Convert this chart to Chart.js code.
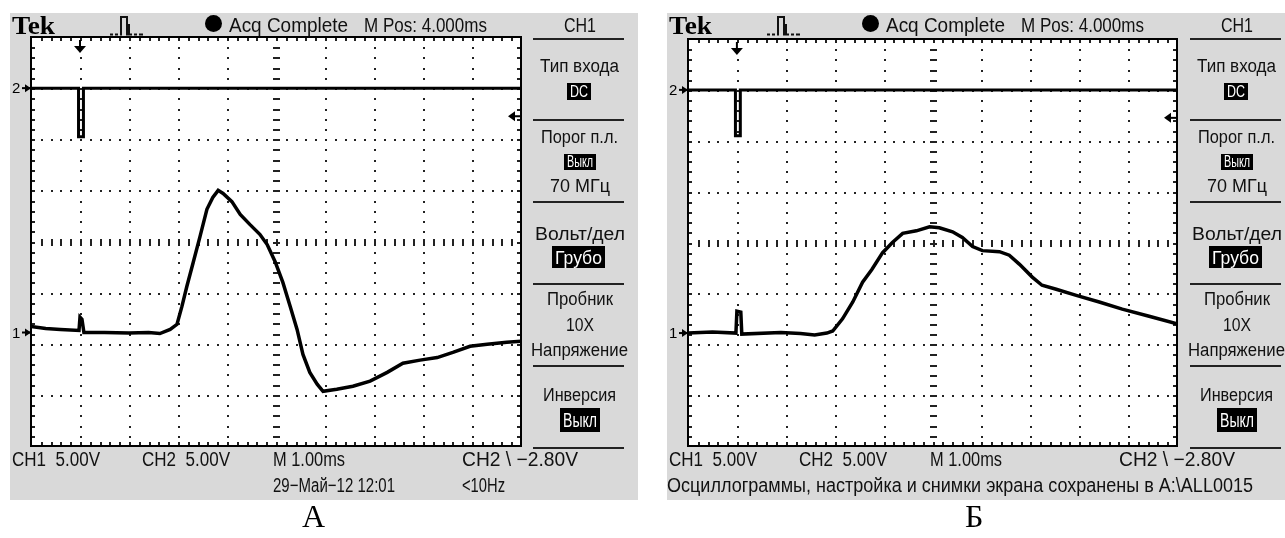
<!DOCTYPE html>
<html lang="ru">
<head>
<meta charset="UTF-8">
<title>Осциллограммы А и Б</title>
<script src="https://cdn.jsdelivr.net/npm/chart.js"></script>
<style>
  body { margin: 0; background: #fff; width: 1285px; height: 538px; overflow: hidden; position: relative;
         font-family: "Liberation Sans", Arial, sans-serif; }
  .panel { position: absolute; top: 13px; height: 487px; background: #d9d9d9; }
  .panel canvas { position: absolute; left: 0; top: 0; }
  .t { position: absolute; white-space: pre; line-height: 1; color: #111; transform-origin: 0 0; }
  .box { position: absolute; background: #000; }
  .rule { position: absolute; height: 2px; background: #222; }
  .lbl { position: absolute; font-family: "Liberation Serif", serif; font-size: 32px; line-height: 1; color: #000; }
</style>
</head>
<body>
<div class="panel" id="panelA" style="left:10px; width:628px;"><canvas id="scopeA" width="628" height="487"></canvas></div>
<div class="panel" id="panelB" style="left:667px; width:618px;"><canvas id="scopeB" width="618" height="487"></canvas></div>
<div class="lbl" style="left:302px; top:500px;">А</div>
<div class="lbl" style="left:965px; top:500px;">Б</div>

<script>
// time in divisions (1 div = 1.00 ms), amplitude in divisions (0 = screen centre)
const timeDivA = [0, 0.3, 0.6, 0.98, 1.0, 1.04, 1.08, 1.5, 2.0, 2.4, 2.63, 2.84, 2.98, 3.08, 3.18, 3.31, 3.45, 3.59, 3.71, 3.82,
                  3.92, 4.10, 4.27, 4.47, 4.67, 4.82, 4.98, 5.14, 5.29, 5.43, 5.55, 5.69, 5.84, 5.96, 6.24, 6.57, 6.92, 7.27, 7.59, 7.94,
                  8.29, 8.61, 8.96, 9.31, 9.71, 10];
const ch1A = [-1.66, -1.70, -1.72, -1.74, -1.48, -1.52, -1.78, -1.78, -1.79, -1.78, -1.80, -1.72, -1.62, -1.27, -0.88, -0.41, 0.10, 0.63, 0.86, 1.0,
              0.94, 0.78, 0.53, 0.33, 0.14, -0.06, -0.39, -0.80, -1.27, -1.72, -2.21, -2.56, -2.79, -2.93, -2.89, -2.83, -2.73, -2.56, -2.38, -2.32,
              -2.27, -2.17, -2.05, -2.01, -1.97, -1.95];

const timeDivB = [0, 0.5, 0.98, 1.0, 1.08, 1.10, 1.9, 2.3, 2.59, 2.84, 2.96, 3.16, 3.37, 3.57, 3.76, 3.98, 4.18, 4.39, 4.67, 4.94,
                  5.14, 5.41, 5.61, 5.82, 6.02, 6.37, 6.57, 6.78, 7.04, 7.24, 7.53, 7.94, 8.41, 8.88, 9.43, 10];
const ch1B = [-1.78, -1.76, -1.78, -1.35, -1.37, -1.80, -1.77, -1.79, -1.82, -1.78, -1.74, -1.50, -1.17, -0.78, -0.53, -0.20, 0.0, 0.18, 0.23, 0.31,
              0.29, 0.21, 0.10, -0.08, -0.16, -0.18, -0.25, -0.43, -0.68, -0.84, -0.92, -1.04, -1.17, -1.31, -1.45, -1.60];

const ch2TimeDiv = [0, 0.97, 0.97, 1.07, 1.07, 10];
const ch2A = [3, 3, 2.05, 2.05, 3, 3];
const ch2B = [3, 3, 2.1, 2.1, 3, 3];

const ch1GroundDiv = -1.78;
const ch2GroundDiv = 3;
const trigPosDiv = 1;
const trigLevelDiv = 2.45;

// oscilloscope graticule + markers, drawn through the chart scales
const graticule = {
  id: 'graticule',
  beforeDatasetsDraw(chart) {
    const { ctx, chartArea: a, scales: { x, y } } = chart;
    ctx.save();
    ctx.fillStyle = '#fff';
    ctx.fillRect(a.left, a.top, a.width, a.height);
    ctx.fillStyle = '#222';
    for (let i = 1; i < 10; i++) {
      const px = Math.round(x.getPixelForValue(i));
      for (let j = 1; j < 40; j++) {
        const py = Math.round(y.getPixelForValue(-4 + j * 0.2));
        if (i === 5) ctx.fillRect(px - 3, py, 7, 2);
        else ctx.fillRect(px, py, 2, 2);
      }
    }
    for (let j = -3; j <= 3; j++) {
      const py = Math.round(y.getPixelForValue(j));
      for (let i = 1; i < 50; i++) {
        const px = Math.round(x.getPixelForValue(i * 0.2));
        if (j === 0) ctx.fillRect(px, py - 3, 2, 7);
        else ctx.fillRect(px, py, 2, 2);
      }
    }
    // border ticks
    for (let i = 1; i < 50; i++) {
      const px = Math.round(x.getPixelForValue(i * 0.2));
      ctx.fillRect(px, a.top, 2, 4);
      ctx.fillRect(px, a.bottom - 4, 2, 4);
    }
    for (let j = 1; j < 40; j++) {
      const py = Math.round(y.getPixelForValue(-4 + j * 0.2));
      ctx.fillRect(a.left, py, 4, 2);
      ctx.fillRect(a.right - 4, py, 4, 2);
    }
    ctx.restore();
  },
  afterDatasetsDraw(chart) {
    const { ctx, chartArea: a, scales: { x, y } } = chart;
    ctx.save();
    ctx.strokeStyle = '#000';
    ctx.lineWidth = 2;
    ctx.strokeRect(a.left, a.top, a.width, a.height);
    ctx.fillStyle = '#000';
    // trigger position
    const tx = x.getPixelForValue(trigPosDiv);
    ctx.fillRect(tx - 1, a.top + 3, 2, 7);
    ctx.beginPath();
    ctx.moveTo(tx - 6, a.top + 9); ctx.lineTo(tx + 6, a.top + 9); ctx.lineTo(tx, a.top + 16); ctx.closePath(); ctx.fill();
    // trigger level
    const ty = y.getPixelForValue(trigLevelDiv);
    ctx.fillRect(a.right - 7, ty - 1, 7, 2);
    ctx.beginPath();
    ctx.moveTo(a.right - 13, ty); ctx.lineTo(a.right - 6, ty - 5); ctx.lineTo(a.right - 6, ty + 5); ctx.closePath(); ctx.fill();
    // channel ground markers
    ctx.font = '15px "Liberation Sans", Arial, sans-serif';
    ctx.textBaseline = 'middle';
    [[ch1GroundDiv, '1'], [ch2GroundDiv, '2']].forEach(([v, s]) => {
      const py = y.getPixelForValue(v);
      ctx.fillText(s, a.left - 19, py + 1);
      ctx.fillRect(a.left - 9, py - 1, 9, 2);
      ctx.beginPath();
      ctx.moveTo(a.left - 6, py - 4); ctx.lineTo(a.left, py); ctx.lineTo(a.left - 6, py + 4); ctx.closePath(); ctx.fill();
    });
    ctx.restore();
  }
};

function makeScope(id, t1, v1, v2, padding) {
  const pts = (t, v) => t.map((tt, i) => ({ x: tt, y: v[i] }));
  return new Chart(document.getElementById(id), {
    type: 'line',
    data: {
      datasets: [
        { data: pts(ch2TimeDiv, v2), borderColor: '#000', borderWidth: 3, pointRadius: 0, tension: 0 },
        { data: pts(t1, v1), borderColor: '#000', borderWidth: 3.5, pointRadius: 0, tension: 0 }
      ]
    },
    options: {
      responsive: false,
      animation: false,
      layout: { padding },
      plugins: { legend: { display: false }, tooltip: { enabled: false } },
      scales: {
        x: { type: 'linear', min: 0, max: 10, display: false },
        y: { type: 'linear', min: -4, max: 4, display: false }
      }
    },
    plugins: [graticule]
  });
}

makeScope('scopeA', timeDivA, ch1A, ch2A, { left: 21, top: 24, right: 117, bottom: 54 });
makeScope('scopeB', timeDivB, ch1B, ch2B, { left: 21, top: 26, right: 108, bottom: 54 });

// screen texts
function txt(panel, s, x, top, size, w, opt = {}) {
  const el = document.createElement('div');
  el.className = 't';
  el.textContent = s;
  el.style.fontSize = size + 'px';
  el.style.top = top + 'px';
  if (opt.color) el.style.color = opt.color;
  if (opt.font) el.style.fontFamily = opt.font;
  if (opt.bold) el.style.fontWeight = 'bold';
  panel.appendChild(el);
  const natural = el.getBoundingClientRect().width;
  el.style.left = (opt.center ? x - w / 2 : x) + 'px';
  el.style.transform = `scaleX(${w / natural})`;
  return el;
}
function box(panel, s, x, y, w, h, size) {
  const b = document.createElement('div');
  b.className = 'box';
  Object.assign(b.style, { left: x + 'px', top: y + 'px', width: w + 'px', height: h + 'px' });
  panel.appendChild(b);
  txt(panel, s, x + w / 2, y + h / 2 - size * 0.49, size, w - 6, { center: true, color: '#fff' });
}

function decorate(panel, bottomLine2) {
  const cx = 569.5;
  txt(panel, 'Tek', 2, 0, 26, 43, { bold: true, font: '"Liberation Serif", serif', color: '#000' });
  panel.insertAdjacentHTML('beforeend',
    '<svg style="position:absolute;left:100px;top:1px" width="34" height="22">' +
    '<path d="M0 20.5H3M5 20.5H8M10 20.5H11V3H17V20.5H19V10V20.5H22M24 20.5H27M29 20.5H33" fill="none" stroke="#111" stroke-width="2"/></svg>' +
    '<div style="position:absolute;left:195px;top:2px;width:17px;height:17px;border-radius:50%;background:#000"></div>');
  txt(panel, 'Acq Complete', 219, 1, 21, 119);
  txt(panel, 'M Pos: 4.000ms', 354, 1, 21, 123);

  // side menu
  txt(panel, 'CH1', cx, 1, 21, 32, { center: true });
  [26, 107, 189, 271, 353, 435].forEach(ry => {
    panel.insertAdjacentHTML('beforeend', `<div class="rule" style="left:523px;top:${ry - 1}px;width:91px"></div>`);
  });
  txt(panel, 'Тип входа', cx, 44, 18, 79, { center: true });
  box(panel, 'DC', 557, 70, 24, 17, 16);
  txt(panel, 'Порог п.л.', cx, 115, 18, 77, { center: true });
  box(panel, 'Выкл', 554, 141, 32, 16, 16);
  txt(panel, '70 МГц', cx, 164, 18, 60, { center: true });
  txt(panel, 'Вольт/дел', cx, 212, 18, 90, { center: true });
  box(panel, 'Грубо', 542, 233, 53, 22, 19);
  txt(panel, 'Пробник', cx, 277, 18, 66, { center: true });
  txt(panel, '10X', cx, 303, 18, 28, { center: true });
  txt(panel, 'Напряжение', cx, 328, 18, 97, { center: true });
  txt(panel, 'Инверсия', cx, 373, 18, 73, { center: true });
  box(panel, 'Выкл', 550, 395, 40, 24, 20);

  // status line
  txt(panel, 'CH1  5.00V', 2, 436, 20, 88);
  txt(panel, 'CH2  5.00V', 132, 436, 20, 88);
  txt(panel, 'M 1.00ms', 263, 436, 20, 72);
  txt(panel, 'CH2 \\ \u22122.80V', 452, 436, 20, 116);
  bottomLine2(panel);
}

decorate(document.getElementById('panelA'), p => {
  txt(p, '29\u2212Май\u221212 12:01', 263, 462, 20, 122);
  txt(p, '<10Hz', 452, 462, 20, 43);
});
decorate(document.getElementById('panelB'), p => {
  txt(p, 'Осциллограммы, настройка и снимки экрана сохранены в A:\\ALL0015', 0, 462, 20, 586);
});
</script>
</body>
</html>
